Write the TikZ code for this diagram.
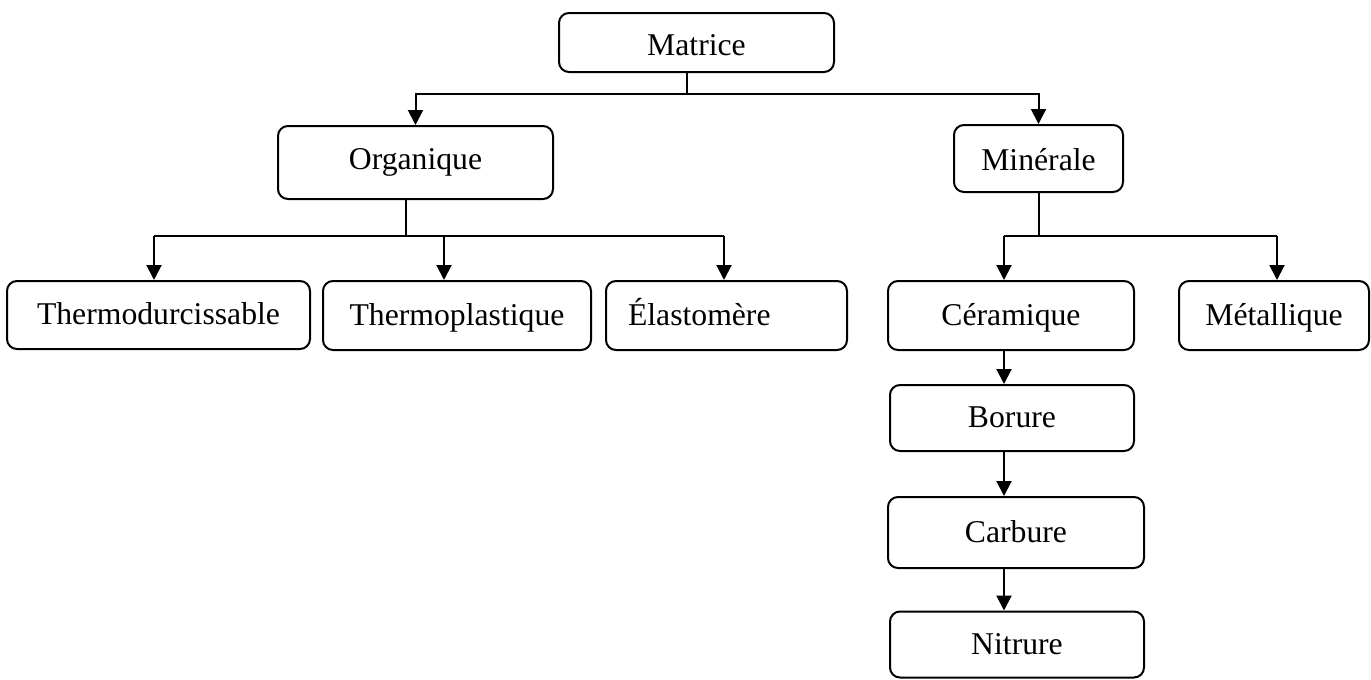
\documentclass[tikz,border=0pt]{standalone}
\usepackage{fontspec}
\setmainfont{Liberation Serif}
\usetikzlibrary{arrows.meta}
\begin{document}
\begin{tikzpicture}[x=1pt,y=-1pt,
  box/.style={draw, line width=2pt, rounded corners=10pt, inner sep=0pt,
    font=\fontsize{31.7}{38}\selectfont, text height=26pt, text depth=7pt},
  link/.style={line width=2pt},
  arr/.style={line width=2pt, -{Triangle[length=15pt,width=15pt]}}]
\useasboundingbox (0,0) rectangle (1371,680);

% boxes
\node[box, minimum width=275pt, minimum height=59pt, text height=32pt] (mat) at (696.5,42.5) {Matrice};
\node[box, minimum width=275pt, minimum height=73pt, text height=20.6pt] (org) at (415.5,162.5) {Organique};
\node[box, minimum width=169pt, minimum height=67pt, text height=30pt] (min) at (1038.5,158.5) {Minérale};
\node[box, minimum width=303pt, minimum height=68pt] (thd) at (158.5,315) {Thermodurcissable};
\node[box, minimum width=268pt, minimum height=69pt] (thp) at (457,315.5) {Thermoplastique};
\node[box, minimum height=69pt, text width=197pt, align=left, inner xsep=22pt] (ela) at (726.5,315.5) {Élastomère};
\node[box, minimum width=246pt, minimum height=69pt] (cer) at (1011,315.5) {Céramique};
\node[box, minimum width=190pt, minimum height=69pt] (met) at (1274,315.5) {Métallique};
\node[box, minimum width=244pt, minimum height=66pt] (bor) at (1012,418) {Borure};
\node[box, minimum width=256pt, minimum height=71pt] (car) at (1016,532.5) {Carbure};
\node[box, minimum width=254pt, minimum height=66pt] (nit) at (1017,644.5) {Nitrure};

% junction points of the connectors
\coordinate (j1) at (687,94);
\coordinate (j2) at (406,236);
\coordinate (a1) at (154,236);
\coordinate (a2) at (444,236);
\coordinate (a3) at (724,236);
\coordinate (j3) at (1039,236);
\coordinate (b1) at (1004,236);
\coordinate (b2) at (1277,236);

% Matrice -> Organique / Minérale
\draw[link] (mat.south -| j1) -- (j1);
\draw[arr] (j1) -| (org.north);
\draw[arr] (j1) -| (min.north);

% Organique -> its three kinds
\draw[link] (org.south -| j2) -- (j2);
\draw[link] (a1) -- (a3);
\draw[arr] (a1) -- (a1 |- thd.north);
\draw[arr] (a2) -- (a2 |- thp.north);
\draw[arr] (a3) -- (a3 |- ela.north);

% Minérale -> Céramique / Métallique
\draw[link] (min.south -| j3) -- (j3);
\draw[link] (b1) -- (b2);
\draw[arr] (b1) -- (b1 |- cer.north);
\draw[arr] (b2) -- (b2 |- met.north);

% ceramic chain
\draw[arr] (cer.south -| b1) -- (bor.north -| b1);
\draw[arr] (bor.south -| b1) -- (car.north -| b1);
\draw[arr] (car.south -| b1) -- (nit.north -| b1);
\end{tikzpicture}
\end{document}
